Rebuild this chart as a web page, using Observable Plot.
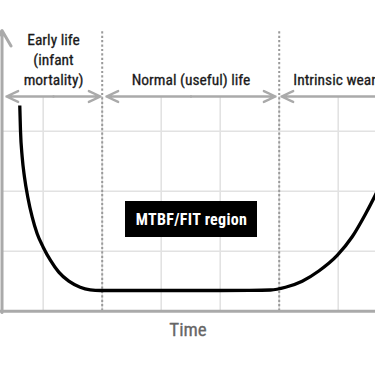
<!DOCTYPE html>
<html><head><meta charset="utf-8">
<script src="https://cdn.jsdelivr.net/npm/d3@7"></script>
<script src="https://cdn.jsdelivr.net/npm/@observablehq/plot@0.6"></script>
<style>
html,body{margin:0;padding:0;background:#fff;overflow:hidden;}
#chart{width:375px;height:366px;}
</style></head><body><div id="chart"></div>
<script>
// Bathtub curve, in grid units (time steps, failure-rate steps)
const curveTime = [-0.397,-0.385,-0.356,-0.317,-0.261,-0.186,-0.102,0,0.124,0.264,0.434,0.627,0.797,0.971,1.5,2,2.5,3,3.5,3.853,4.107,4.390,4.671,4.983,5.237,5.463,5.632,5.717];
const curveRate = [3.428,3.012,2.567,2.233,1.900,1.567,1.290,1.067,0.845,0.650,0.500,0.400,0.357,0.345,0.345,0.345,0.345,0.345,0.347,0.353,0.399,0.500,0.670,0.930,1.240,1.620,1.940,2.110];
const phaseLabels = ["Early life\n(infant\nmortality)", "Normal (useful) life", "Intrinsic wear-out"];
const phaseStart = [-0.622, 1.073, 4.039];
const phaseEnd = [0.971, 3.937, 7.4];
const phaseBoundaries = [1, 4];
const gridTimes = [0, 1, 2, 3, 4, 5];
const gridRates = [1, 2, 3];
const regionLabel = "MTBF/FIT region";
const regionTime = [1.395, 3.632];
const regionRate = [1.228, 1.828];
const axisLabel = "Time";

const xDomain = [-0.7237, 5.632];
const yDomain = [-0.922, 5.178];
const axisT = -0.698;     // position of the vertical axis
const axisTop = 4.68;     // tip of vertical axis arrow
const phaseLevel = 3.578; // level of phase arrows
const labelLevel = 3.778; // baseline of phase labels
const dottedTop = 4.66;

const curve = curveTime.map((t, i) => ({t, r: curveRate[i]}));
const phases = phaseLabels.map((label, i) => ({label, a: phaseStart[i], b: phaseEnd[i], m: (phaseStart[i] + phaseEnd[i]) / 2, i}));
const arrows = phases.flatMap(p => [{from: p.m, to: p.a}, {from: p.m, to: p.b}]);
const region = [{x1: regionTime[0], x2: regionTime[1], y1: regionRate[0], y2: regionRate[1], label: regionLabel}];
const font = "'Liberation Sans Narrow', 'Arial Narrow', 'Roboto Condensed', 'DejaVu Sans Condensed', sans-serif";

const chart = Plot.plot({
  width: 375, height: 366, margin: 0,
  x: {domain: xDomain, axis: null},
  y: {domain: yDomain, axis: null},
  style: {background: "#fff", fontFamily: font},
  marks: [
    Plot.ruleX(gridTimes, {x: d => d, y1: 0, y2: phaseLevel, stroke: "#e2e2e2", strokeWidth: 1.6}),
    Plot.ruleY(gridRates, {y: d => d, x1: axisT, x2: 6, stroke: "#e2e2e2", strokeWidth: 1.6, clip: true}),
    Plot.ruleX(phaseBoundaries, {x: d => d, y1: 0, y2: dottedTop, stroke: "#9a9a9a", strokeWidth: 2, strokeDasharray: "2.2,2.2"}),
    Plot.ruleY([0], {y: d => d, x1: axisT - 0.03, x2: 6, stroke: "#aaa", strokeWidth: 3, clip: true}),
    Plot.arrow([0], {x1: axisT, y1: -0.02, x2: axisT, y2: axisTop, stroke: "#aaa", strokeWidth: 3, headLength: 9, headAngle: 60}),
    Plot.arrow(arrows, {x1: "from", x2: "to", y1: phaseLevel, y2: phaseLevel, stroke: "#aaa", strokeWidth: 2.4, headLength: 8, headAngle: 50, clip: true}),
    Plot.line(curve, {x: "t", y: "r", curve: "monotone-x", stroke: "#000", strokeWidth: 3.3, strokeLinecap: "butt", clip: true}),
    Plot.rect(region, {x1: "x1", x2: "x2", y1: "y1", y2: "y2", fill: "#000"}),
    Plot.text(region, {x: d => (d.x1 + d.x2) / 2, y: d => (d.y1 + d.y2) / 2, text: "label", fill: "#fff", fontSize: 16, fontWeight: "bold", lineAnchor: "middle", fontFamily: font}),
    Plot.text(phases.slice(0, 2), {x: "m", y: labelLevel, text: "label", fill: "#1a1a1a", stroke: "#1a1a1a", strokeWidth: 0.3, fontSize: 15.5, lineHeight: 1.275, lineAnchor: "bottom", textAnchor: "middle", fontFamily: font}),
    Plot.text(phases.slice(2), {x: d => d.a + 0.2, y: labelLevel, text: "label", fill: "#1a1a1a", stroke: "#1a1a1a", strokeWidth: 0.3, fontSize: 15.5, lineAnchor: "bottom", textAnchor: "start", fontFamily: font}),
    Plot.text([axisLabel], {x: (xDomain[0] + xDomain[1]) / 2, y: -0.42, text: d => d, fill: "#666", stroke: "#666", strokeWidth: 0.3, fontSize: 19, lineAnchor: "bottom", fontFamily: font})
  ]
});
d3.select(chart).selectAll("text").filter(function () { return this.textContent === regionLabel; }).attr("letter-spacing", "0.3px");
document.getElementById("chart").append(chart);
</script>
</body></html>
